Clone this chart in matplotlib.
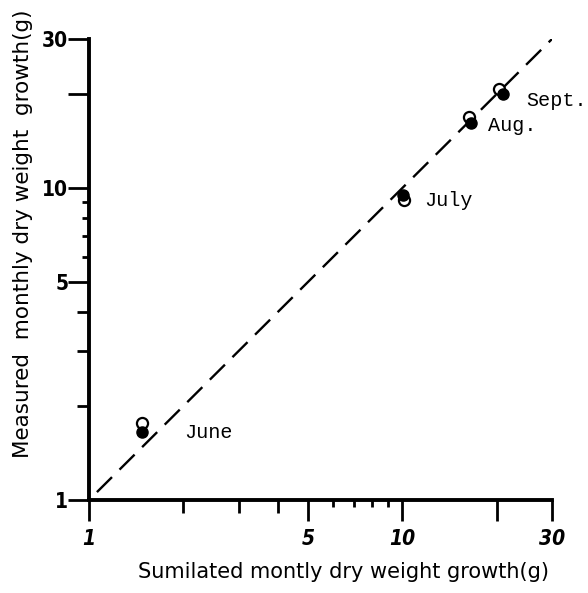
import matplotlib
matplotlib.use('Agg')
import matplotlib.pyplot as plt
from matplotlib.ticker import FixedLocator, FixedFormatter, NullFormatter

# values (log-log)
months = ['June', 'July', 'Aug.', 'Sept.']
sim_open = [1.48, 10.1, 16.3, 20.3]
meas_open = [1.77, 9.15, 16.9, 20.8]
sim_filled = [1.48, 10.07, 16.6, 20.9]
meas_filled = [1.65, 9.5, 16.2, 20.0]
line_ends = [1.06, 30]

major_ticks = [1, 5, 10, 20, 30]
major_labels = ['1', '5', '10', '', '30']
minor_ticks = [2, 3, 4, 6, 7, 8, 9]

# label offsets from the filled point (points)
label_offsets = [(30, 0), (15, -4), (12, -2), (17, -5)]

fig = plt.figure(figsize=(5.88, 5.93), dpi=100)
ax = fig.add_axes([89 / 588, 93 / 593, 463 / 588, 461 / 593])
ax.set_xscale('log')
ax.set_yscale('log')
ax.set_xlim(1, 30)
ax.set_ylim(1, 30)

ax.plot(line_ends, line_ends, color='black', lw=1.7, dashes=(9, 4.5), zorder=2)
ax.plot(sim_open, meas_open, 'o', ms=8, mfc='white', mec='black', mew=1.6, zorder=3)
ax.plot(sim_filled, meas_filled, 'o', ms=8, mfc='black', mec='black', zorder=4)

for m, x, y, off in zip(months, sim_filled, meas_filled, label_offsets):
    ax.annotate(m, (x, y), xytext=off, textcoords='offset points',
                ha='left', va='center', fontsize=14.5, family='Liberation Mono')

for side in ['top', 'right']:
    ax.spines[side].set_visible(False)
for side in ['left', 'bottom']:
    ax.spines[side].set_linewidth(2.8)

for axis in (ax.xaxis, ax.yaxis):
    axis.set_major_locator(FixedLocator(major_ticks))
    axis.set_major_formatter(FixedFormatter(major_labels))
    axis.set_minor_locator(FixedLocator(minor_ticks))
    axis.set_minor_formatter(NullFormatter())

ax.tick_params(which='major', length=15, width=2, direction='out')
ax.tick_params(which='minor', length=9, width=2, direction='out')
ax.tick_params(axis='y', which='major', pad=0)
ax.tick_params(axis='x', which='major', pad=6)

# the 6-9 ticks are shorter
for axis in (ax.xaxis, ax.yaxis):
    for t in axis.get_minor_ticks()[3:]:
        t.tick1line.set_markersize(5)

for lab in ax.get_yticklabels():
    lab.set_fontweight('bold')
    lab.set_fontsize(15)
    lab.set_fontstretch('condensed')
for lab in ax.get_xticklabels():
    lab.set_fontweight('bold')
    lab.set_fontstyle('italic')
    lab.set_fontsize(15)
    lab.set_fontstretch('condensed')

fig.text(344 / 588, 1 - 572 / 593, 'Sumilated montly dry weight growth(g)',
         ha='center', va='center', fontsize=15)
fig.text(23 / 588, 1 - 234 / 593, 'Measured  monthly dry weight  growth(g)',
         ha='center', va='center', rotation=90, fontsize=15.5)

fig.savefig('out.png', dpi=100)
